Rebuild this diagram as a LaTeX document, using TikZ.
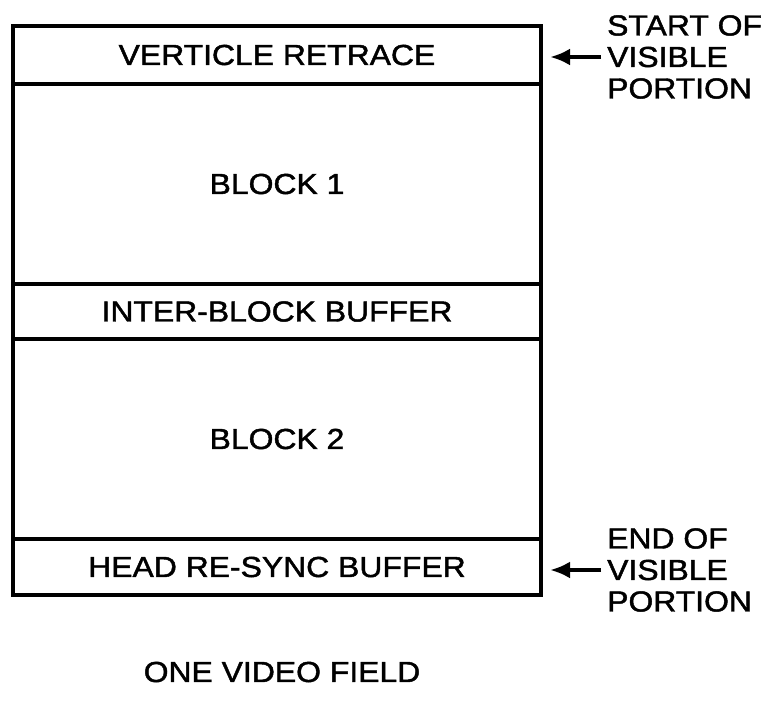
\documentclass[tikz,border=0pt]{standalone}
\usepackage{fontspec}
\setmainfont[FakeStretch=1.1,FakeBold=1.5]{Liberation Sans}
\usetikzlibrary{arrows.meta,positioning}

\begin{document}
\begin{tikzpicture}[x=1pt,y=-1pt,node distance=0pt,>=Latex, every node/.style={font=\fontsize{29}{31.5}\selectfont}]
\tikzstyle{band}=[draw, line width=4.5pt, minimum width=528pt, inner sep=0pt, outer sep=0pt, align=center]
\tikzstyle{note}=[inner sep=0pt, align=left, anchor=west]
\tikzstyle{marker}=[-{Latex[length=20pt,width=17pt]}, line width=4pt]
\useasboundingbox (0,0) rectangle (773,706);
% the stacked field
\node[band, minimum height=58pt, anchor=north west] (vr) at (13,26) {VERTICLE RETRACE};
\node[band, minimum height=200pt, below=of vr] (b1) {BLOCK 1};
\node[band, minimum height=55pt, below=of b1] (ibb) {INTER-BLOCK BUFFER};
\node[band, minimum height=200pt, below=of ibb] (b2) {BLOCK 2};
\node[band, minimum height=56pt, below=of b2] (hrb) {HEAD RE-SYNC BUFFER};
% side labels
\node[note] (start) at (607,57) {START OF\\VISIBLE\\PORTION};
\node[note] (stop) at (607,570) {END OF\\VISIBLE\\PORTION};
\draw[marker, shorten <=6pt, shorten >=9pt] (start.west) -- (start.west -| vr.east);
\draw[marker, shorten <=6pt, shorten >=9pt] (stop.west) -- (stop.west -| hrb.east);
\node (title) at (282,672) {ONE VIDEO FIELD};
\end{tikzpicture}
\end{document}
